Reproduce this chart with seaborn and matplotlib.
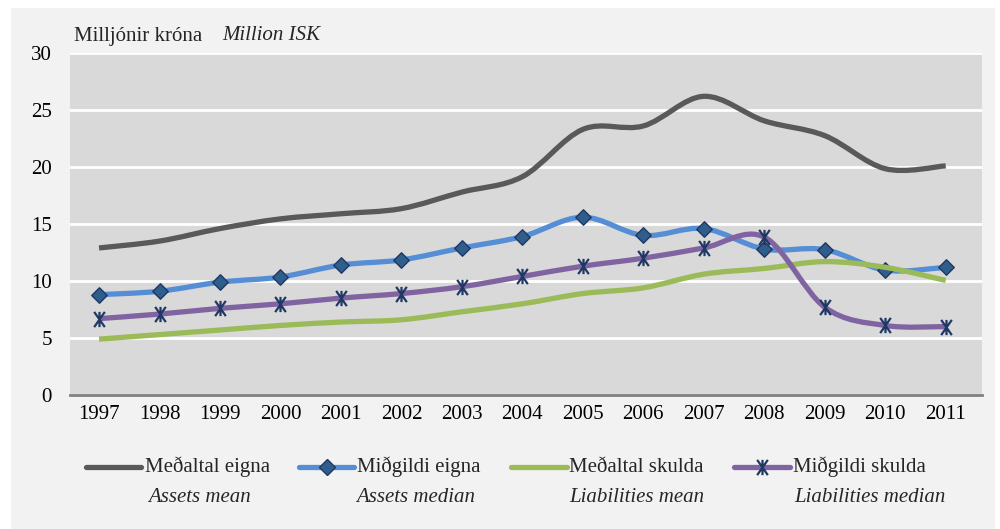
import numpy as np
import matplotlib
matplotlib.use("Agg")
import matplotlib.pyplot as plt
import seaborn as sns
from matplotlib.path import Path
from matplotlib.patches import PathPatch, Rectangle
from matplotlib.lines import Line2D

years = list(range(1997, 2012))
assets_mean = [12.9, 13.5, 14.6, 15.45, 15.9, 16.35, 17.8, 19.15, 23.3, 23.6, 26.2, 24.05, 22.75, 19.85, 20.1]
assets_median = [8.8, 9.1, 9.9, 10.35, 11.4, 11.85, 12.9, 13.9, 15.6, 14.0, 14.6, 12.8, 12.75, 10.95, 11.2]
liab_mean = [4.9, 5.3, 5.7, 6.1, 6.4, 6.6, 7.3, 8.0, 8.9, 9.4, 10.6, 11.1, 11.7, 11.2, 10.05]
liab_median = [6.7, 7.1, 7.6, 8.0, 8.5, 8.9, 9.5, 10.4, 11.3, 12.0, 12.9, 13.85, 7.7, 6.1, 6.0]

labels_is = ["Meðaltal eigna", "Miðgildi eigna", "Meðaltal skulda", "Miðgildi skulda"]
labels_en = ["Assets mean", "Assets median", "Liabilities mean", "Liabilities median"]
yticks = [0, 5, 10, 15, 20, 25, 30]
title_is = "Milljónir króna"
title_en = "Million ISK"

colors = ["#595959", "#558ED5", "#9BBB59", "#8064A2"]
series = [assets_mean, assets_median, liab_mean, liab_median]
FS = 15

sns.set_theme(style="white")
plt.rcParams['font.family'] = ['Liberation Serif', 'DejaVu Serif']

W, H = 1000, 529
fig = plt.figure(figsize=(10, 5.29), dpi=100, facecolor='white')
fig.add_artist(Rectangle((11 / W, 0), (995 - 11) / W, 1 - 8 / H, transform=fig.transFigure,
                         facecolor='#F2F2F2', edgecolor='none', zorder=0))
ax = fig.add_axes([0.07, 1 - 395 / 529, 0.912, (395 - 53) / 529])
ax.set_facecolor('#D9D9D9')

# custom star marker (X with vertical bar), Excel-like
star = Path([(-0.35, -0.5), (0.35, 0.5), (-0.35, 0.5), (0.35, -0.5), (0, -0.5), (0, 0.5)],
            [Path.MOVETO, Path.LINETO, Path.MOVETO, Path.LINETO, Path.MOVETO, Path.LINETO])


def smooth_path(x, y):
    pts = np.column_stack([x, y]).astype(float)
    n = len(pts)
    verts = [pts[0]]
    codes = [Path.MOVETO]
    for i in range(n - 1):
        p0 = pts[i - 1] if i > 0 else pts[i]
        p1 = pts[i]
        p2 = pts[i + 1]
        p3 = pts[i + 2] if i + 2 < n else pts[i + 1]
        c1 = p1 + (p2 - p0) / 6
        c2 = p2 - (p3 - p1) / 6
        verts += [c1, c2, p2]
        codes += [Path.CURVE4] * 3
    return Path(verts, codes)


for i, (vals, col) in enumerate(zip(series, colors)):
    patch = PathPatch(smooth_path(years, vals), facecolor='none', edgecolor=col,
                      lw=3.8, capstyle='butt', joinstyle='round', zorder=3 + 2 * i)
    ax.add_patch(patch)
    if i == 1:
        sns.scatterplot(x=years, y=vals, marker='D', s=62, color='#2F5D8C',
                        edgecolor='#1F3864', linewidth=1.0, ax=ax, zorder=4 + 2 * i)
    elif i == 3:
        sns.scatterplot(x=years, y=vals, marker=star, s=120, color='#1F3864',
                        edgecolor='#1F3864', linewidth=1.6, ax=ax, zorder=4 + 2 * i)

ax.set_xlim(1996.52, 2011.6)
ax.set_ylim(0, 30)
ax.set_yticks(yticks)
ax.set_yticklabels([str(t) for t in yticks], fontsize=FS)
ax.set_xticks(years)
ax.set_xticklabels([str(y) for y in years], fontsize=FS)
ax.tick_params(axis='both', length=0, colors='black')
ax.tick_params(axis='y', pad=13)
ax.tick_params(axis='x', pad=7)
ax.yaxis.grid(True, color='white', lw=2)
ax.set_axisbelow(True)
for s in ['top', 'right', 'left']:
    ax.spines[s].set_visible(False)
ax.spines['bottom'].set_color('#808080')
ax.spines['bottom'].set_linewidth(2)
ax.spines['bottom'].set_zorder(20)

# title
fig.text(74 / W, 1 - 36 / H, title_is, fontsize=FS, va='center', ha='left')
fig.text(222 / W, 1 - 36 / H, title_en, fontsize=FS, va='center', ha='left', style='italic')

# legend drawn manually
leg = [(86, 141, 145, 200), (299, 354, 357, 416), (511, 567, 569, 637), (734, 790, 793, 870)]
row1 = 1 - 467 / H
row2 = 1 - 497 / H
for i, (x0, x1, xt, xc) in enumerate(leg):
    fig.add_artist(Line2D([x0 / W, x1 / W], [row1, row1], color=colors[i], lw=3.8,
                          transform=fig.transFigure))
    xm = (x0 + x1) / 2 / W
    if i == 1:
        fig.add_artist(Line2D([xm], [row1], marker='D', markersize=7.9, color='#2F5D8C',
                              markeredgecolor='#1F3864', markeredgewidth=1.0, transform=fig.transFigure))
    elif i == 3:
        fig.add_artist(Line2D([xm], [row1], marker=star, markersize=11, color='#1F3864',
                              markeredgewidth=1.6, transform=fig.transFigure))
    fig.text(xt / W, row1, labels_is[i], fontsize=FS, va='center', ha='left')
    fig.text(xc / W, row2, labels_en[i], fontsize=FS, va='center', ha='center', style='italic')

fig.savefig("out.png", dpi=100, facecolor=fig.get_facecolor())
